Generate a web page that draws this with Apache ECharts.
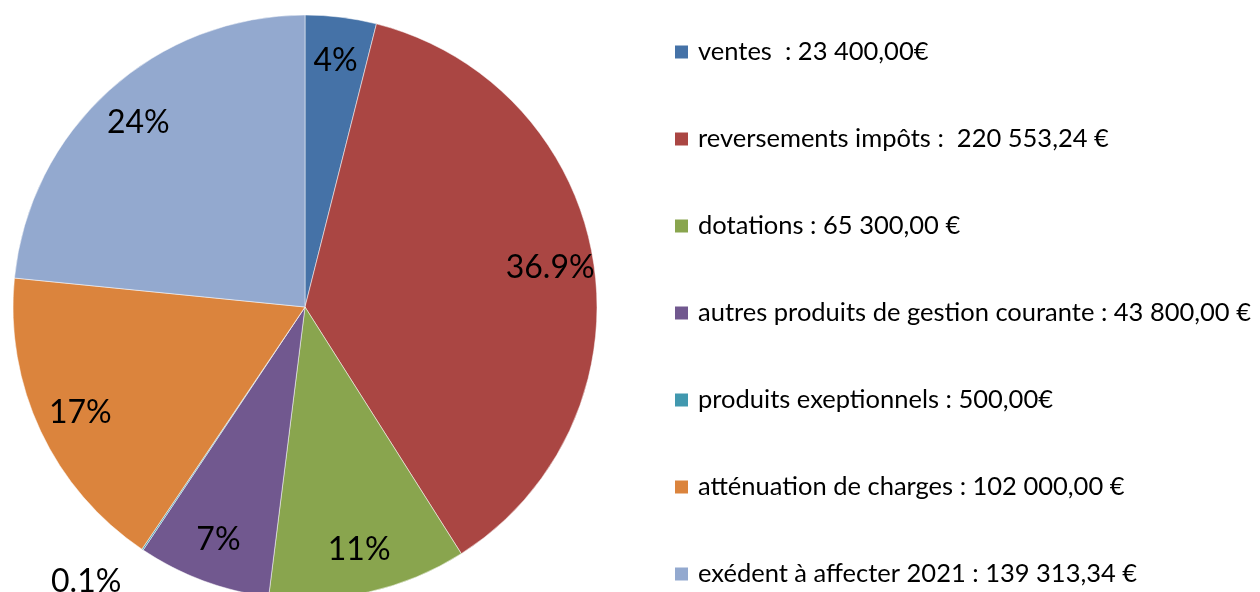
<!DOCTYPE html>
<html>
<head>
<meta charset="utf-8">
<script src="https://cdn.jsdelivr.net/npm/echarts@6/dist/echarts.min.js"></script>
<style>
  html, body { margin: 0; padding: 0; background: #fff; }
  #chart { width: 1260px; height: 592px; }
</style>
</head>
<body>
<div id="chart"></div>
<script>
const categories = [
  'ventes  : 23 400,00€',
  'reversements impôts :  220 553,24 €',
  'dotations : 65 300,00 €',
  'autres produits de gestion courante : 43 800,00 €',
  'produits exeptionnels : 500,00€',
  'atténuation de charges : 102 000,00 €',
  'exédent à affecter 2021 : 139 313,34 €'
];
const values = [23400, 220553.24, 65300, 43800, 500, 102000, 139313.34];
const pctLabels = ['4%', '36.9%', '11%', '7%', '0.1%', '17%', '24%'];
const colors = ['#4572A7', '#AA4643', '#89A54E', '#71588F', '#4198AF', '#DB843D', '#93A9CF'];

const FONT = 'Lato';
const center = [305, 307];
const R = 292;

const pieData = categories.map((name, i) => ({ name, value: values[i] }));
const labelData = categories.map((name, i) => {
  const item = { name, value: values[i] };
  if (pctLabels[i] === '0.1%') {
    item.label = { position: 'outside', distanceToLabelLine: 0 };
    item.labelLine = { show: false, length: 38, length2: 0 };
  }
  return item;
});

const chart = echarts.init(document.getElementById('chart'));
chart.setOption({
  animation: false,
  color: colors,
  legend: {
    orient: 'vertical',
    left: 668,
    top: 34,
    itemWidth: 15,
    itemHeight: 15,
    itemGap: 61,
    icon: 'rect',
    textStyle: { fontFamily: FONT, fontSize: 25.5, color: '#000', padding: [0, 0, 0, 4] },
    data: categories
  },
  series: [
    {
      type: 'pie',
      center: center,
      radius: R,
      startAngle: 90,
      clockwise: true,
      silent: true,
      label: { show: false },
      labelLine: { show: false },
      itemStyle: { borderColor: '#fff', borderWidth: 0.5 },
      data: pieData
    },
    {
      type: 'pie',
      center: center,
      radius: [R * 0.68, R],
      startAngle: 90,
      clockwise: true,
      silent: true,
      legendHoverLink: false,
      itemStyle: { color: 'transparent' },
      avoidLabelOverlap: false,
      label: {
        show: true,
        position: 'inside',
        fontFamily: FONT,
        fontSize: 32,
        color: '#000',
        formatter: p => pctLabels[p.dataIndex]
      },
      labelLine: { show: false },
      data: labelData
    }
  ]
});
</script>
</body>
</html>
